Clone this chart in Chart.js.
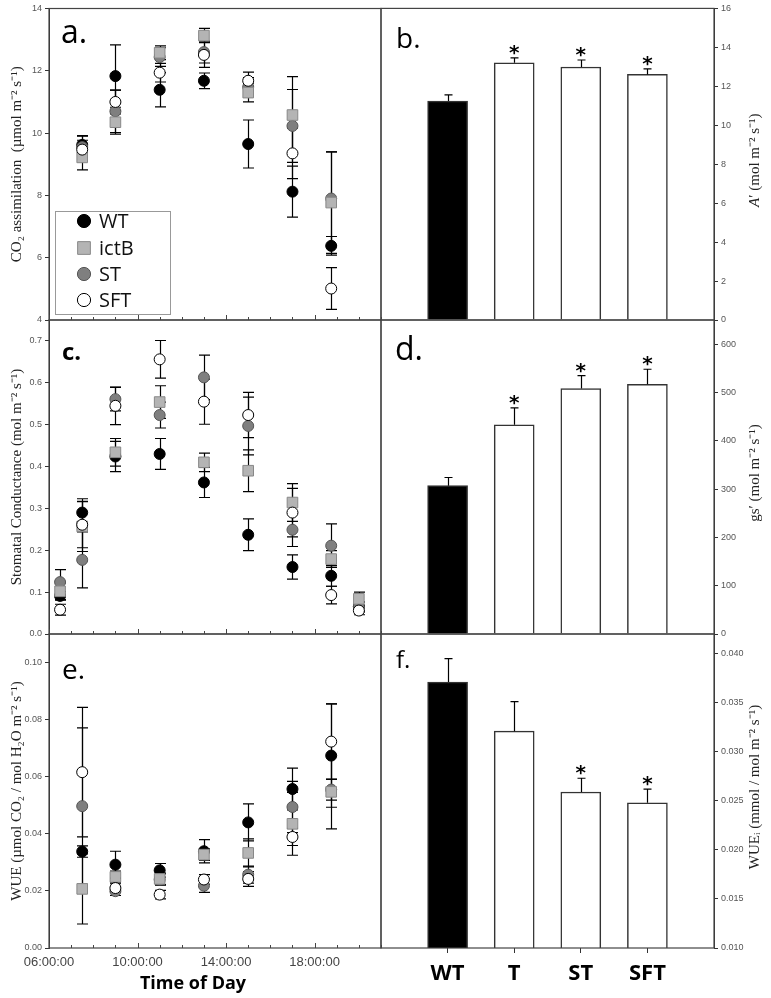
<!DOCTYPE html>
<html>
<head>
<meta charset="utf-8">
<title>Diurnal gas exchange</title>
<script src="https://cdn.jsdelivr.net/npm/chart.js@4.4.1/dist/chart.umd.min.js"></script>
<style>
  html, body { margin: 0; padding: 0; background: #fff; }
  #wrap { position: relative; width: 771px; height: 998px; }
  #wrap canvas { position: absolute; left: 0; top: 0; }
</style>
</head>
<body>
<div id="wrap">
  <canvas id="panelA" width="771" height="998"></canvas>
  <canvas id="panelB" width="771" height="998"></canvas>
  <canvas id="panelC" width="771" height="998"></canvas>
  <canvas id="panelD" width="771" height="998"></canvas>
  <canvas id="panelE" width="771" height="998"></canvas>
  <canvas id="panelF" width="771" height="998"></canvas>
</div>
<script>
// ---- data (hours of day) ----
const lines = ['WT', 'ictB', 'ST', 'SFT'];
const genotypes = ['WT', 'T', 'ST', 'SFT'];

const hoursA = [7.5, 9, 11, 13, 15, 17, 18.75];
const hoursC = [6.5, 7.5, 9, 11, 13, 15, 17, 18.75, 20];
const hoursE = [7.5, 9, 11, 13, 15, 17, 18.75];
const hourTicks = [6, 10, 14, 18];

// a. CO2 assimilation
const assimWT = [9.62, 11.83, 11.39, 11.68, 9.65, 8.12, 6.38];
const assimWTErr = [0.3, 1.0, 0.55, 0.25, 0.77, 0.82, 0.3];
const assimIctB = [9.22, 10.35, 12.58, 13.13, 11.30, 10.58, 7.77];
const assimIctBErr = [0.4, 0.38, 0.22, 0.23, 0.3, 1.23, 1.63];
const assimST = [9.55, 10.7, 12.44, 12.6, 11.48, 10.23, 7.9];
const assimSTErr = [0.35, 0.68, 0.3, 0.35, 0.3, 1.17, 1.5];
const assimSFT = [9.47, 11.0, 11.94, 12.51, 11.68, 9.35, 5.01];
const assimSFTErr = [0.3, 0.38, 0.3, 0.4, 0.28, 0.81, 0.67];

// c. stomatal conductance
const gsWT = [0.091, 0.290, 0.424, 0.430, 0.362, 0.237, 0.160, 0.139, 0.066];
const gsWTErr = [0.01, 0.033, 0.036, 0.037, 0.036, 0.038, 0.029, 0.025, 0.01];
const gsIctB = [0.102, 0.257, 0.434, 0.554, 0.410, 0.390, 0.314, 0.179, 0.084];
const gsIctBErr = [0.02, 0.06, 0.033, 0.039, 0.022, 0.05, 0.045, 0.02, 0.016];
const gsST = [0.124, 0.177, 0.561, 0.523, 0.613, 0.497, 0.249, 0.211, 0.065];
const gsSTErr = [0.03, 0.067, 0.028, 0.031, 0.053, 0.069, 0.04, 0.052, 0.012];
const gsSFT = [0.058, 0.261, 0.545, 0.656, 0.555, 0.523, 0.290, 0.093, 0.056];
const gsSFTErr = [0.013, 0.055, 0.045, 0.045, 0.054, 0.054, 0.058, 0.021, 0.01];

// e. water use efficiency
const wueWT = [0.0338, 0.0292, 0.0272, 0.0339, 0.044, 0.0557, 0.0674];
const wueWTErr = [0.002, 0.0047, 0.0024, 0.0041, 0.0065, 0.0073, 0.0181];
const wueIctB = [0.0207, 0.0249, 0.0242, 0.0327, 0.0333, 0.0435, 0.0547];
const wueIctBErr = [0.0123, 0.002, 0.002, 0.002, 0.0049, 0.011, 0.013];
const wueST = [0.0497, 0.0199, 0.024, 0.0218, 0.0257, 0.0494, 0.0555];
const wueSTErr = [0.0274, 0.0015, 0.002, 0.0023, 0.003, 0.009, 0.0037];
const wueSFT = [0.0616, 0.021, 0.0187, 0.024, 0.0242, 0.0389, 0.0723];
const wueSFTErr = [0.0227, 0.0015, 0.0015, 0.0017, 0.0026, 0.003, 0.0132];

// b, d, f. integrated bars
const aBar = [11.24, 13.21, 12.99, 12.61];
const aBarErr = [0.32, 0.25, 0.36, 0.28];
const aBarStars = [false, true, true, true];
const gsBar = [307, 433, 508, 517];
const gsBarErr = [17, 35, 27, 31];
const gsBarStars = [false, true, true, true];
const wueBar = [0.0371, 0.0321, 0.0259, 0.0248];
const wueBarErr = [0.0024, 0.003, 0.0014, 0.0014];
const wueBarStars = [false, false, true, true];

// tick values
const ticksA = [4, 6, 8, 10, 12, 14];
const ticksB = [0, 2, 4, 6, 8, 10, 12, 14, 16];
const ticksC = [0, 0.1, 0.2, 0.3, 0.4, 0.5, 0.6, 0.7];
const ticksD = [0, 100, 200, 300, 400, 500, 600];
const ticksE = [0, 0.02, 0.04, 0.06, 0.08, 0.10];
const ticksF = [0.010, 0.015, 0.020, 0.025, 0.030, 0.035, 0.040];

// ---- styles ----
const MARKERS = {
  WT:   { pointStyle: 'circle', radius: 5.5, fill: '#000000', border: '#000000' },
  ictB: { pointStyle: 'rect',   radius: 7.5, fill: '#b4b4b4', border: '#888888' },
  ST:   { pointStyle: 'circle', radius: 5.5, fill: '#7f7f7f', border: '#555555' },
  SFT:  { pointStyle: 'circle', radius: 5.5, fill: '#ffffff', border: '#000000' }
};
const DRAW_ORDER = { WT: 3, ST: 2, ictB: 1, SFT: 0 };
const TICK_FONT = { family: 'Liberation Sans', size: 9 };
const TITLE_FONT = { family: 'Liberation Serif', size: 15 };
const FRAME = '#444';

function scatterSet(name, hours, values, errors) {
  const m = MARKERS[name];
  return {
    label: name,
    data: hours.map((h, i) => ({ x: h, y: values[i] })),
    errors: errors,
    pointStyle: m.pointStyle,
    pointRadius: m.radius,
    pointBackgroundColor: m.fill,
    pointBorderColor: m.border,
    pointBorderWidth: 1,
    showLine: false,
    order: DRAW_ORDER[name]
  };
}

function fixedTicks(list) {
  return scale => { scale.ticks = list.map(v => ({ value: v })); };
}

// error bars, stars, frames, panel letters, legend, inward time ticks
const figurePlugin = {
  id: 'figure',
  beforeDatasetsDraw(chart) {
    if (chart.config.type !== 'scatter') return;
    drawErrors(chart, true, 11);
  },
  afterDatasetsDraw(chart, args, opts) {
    if (chart.config.type === 'bar') {
      drawErrors(chart, false, 8);
      drawStars(chart, opts.stars || []);
    }
  },
  afterDraw(chart, args, opts) {
    const ctx = chart.ctx;
    const area = chart.chartArea;
    ctx.save();

    // frame
    ctx.strokeStyle = FRAME;
    ctx.lineWidth = 1.2;
    ctx.strokeRect(area.left, area.top, area.right - area.left, area.bottom - area.top);

    // inward minor / major time ticks
    if (opts.timeTicks) {
      const xs = chart.scales.x;
      ctx.beginPath();
      for (let h = 6; h <= 21; h++) {
        const px = Math.round(xs.getPixelForValue(h)) + 0.5;
        const len = (h - 6) % 4 === 0 ? 5 : 3;
        ctx.moveTo(px, area.bottom);
        ctx.lineTo(px, area.bottom - len);
      }
      ctx.lineWidth = 1;
      ctx.stroke();
    }

    // right-hand axis title, read bottom to top
    if (opts.rightTitle) {
      ctx.save();
      ctx.translate(755, (area.top + area.bottom) / 2 - 4);
      ctx.rotate(-Math.PI / 2);
      ctx.fillStyle = '#222';
      ctx.textBaseline = 'middle';
      ctx.textAlign = 'left';
      let total = 0;
      opts.rightTitle.forEach(p => {
        ctx.font = (p.italic ? 'italic ' : '') + '15px "Liberation Serif"';
        total += ctx.measureText(p.text).width;
      });
      let x = -total / 2;
      opts.rightTitle.forEach(p => {
        ctx.font = (p.italic ? 'italic ' : '') + '15px "Liberation Serif"';
        ctx.fillText(p.text, x, 0);
        x += ctx.measureText(p.text).width;
      });
      ctx.restore();
    }

    // panel letter
    if (opts.letter) {
      ctx.fillStyle = '#000';
      ctx.font = opts.letterFont;
      ctx.textBaseline = 'alphabetic';
      ctx.textAlign = 'left';
      ctx.fillText(opts.letter, opts.letterX, opts.letterY);
    }

    // legend box
    if (opts.legend) {
      const lg = opts.legend;
      ctx.strokeStyle = '#999';
      ctx.lineWidth = 1;
      ctx.strokeRect(lg.x + 0.5, lg.y + 0.5, lg.w, lg.h);
      ctx.font = '20px "Open Sans"';
      ctx.textBaseline = 'middle';
      ctx.textAlign = 'left';
      lines.forEach((name, i) => {
        const m = MARKERS[name];
        const cy = lg.rows[i];
        ctx.fillStyle = m.fill;
        ctx.strokeStyle = m.border;
        ctx.lineWidth = 1;
        Chart.helpers.drawPoint(ctx, {
          pointStyle: m.pointStyle,
          radius: m.radius * 1.2,
          rotation: 0,
          borderWidth: 1
        }, lg.markerX, cy);
        ctx.fillStyle = '#111';
        ctx.fillText(name, lg.textX, cy + 1);
      });
    }

    // bottom axis title
    if (opts.xTitle) {
      ctx.fillStyle = '#000';
      ctx.font = 'bold 18px "Open Sans"';
      ctx.textAlign = 'center';
      ctx.textBaseline = 'alphabetic';
      ctx.fillText(opts.xTitle, opts.xTitleX, opts.xTitleY);
    }
    ctx.restore();
  }
};

function drawErrors(chart, both, cap) {
  const ctx = chart.ctx;
  const ys = chart.scales.y;
  ctx.save();
  ctx.strokeStyle = '#000';
  ctx.lineWidth = 1.2;
  chart.data.datasets.forEach((ds, di) => {
    if (!ds.errors) return;
    const meta = chart.getDatasetMeta(di);
    meta.data.forEach((el, i) => {
      const raw = ds.data[i];
      const v = raw && typeof raw === 'object' ? raw.y : raw;
      const err = ds.errors[i];
      if (v == null || err == null) return;
      const x = Math.round(el.x) + 0.5;
      const yTop = ys.getPixelForValue(v + err);
      const yBot = ys.getPixelForValue(both ? v - err : v);
      ctx.beginPath();
      ctx.moveTo(x, yTop);
      ctx.lineTo(x, yBot);
      ctx.moveTo(x - cap / 2, yTop);
      ctx.lineTo(x + cap / 2, yTop);
      if (both) {
        ctx.moveTo(x - cap / 2, yBot);
        ctx.lineTo(x + cap / 2, yBot);
      }
      ctx.stroke();
    });
  });
  ctx.restore();
}

function drawStars(chart, stars) {
  const ctx = chart.ctx;
  const ys = chart.scales.y;
  const ds = chart.data.datasets[0];
  const meta = chart.getDatasetMeta(0);
  ctx.save();
  ctx.fillStyle = '#000';
  ctx.font = 'bold 20px "DejaVu Sans"';
  ctx.textAlign = 'center';
  ctx.textBaseline = 'alphabetic';
  stars.forEach((s, i) => {
    if (!s) return;
    const idx = i + 1;
    const capY = ys.getPixelForValue(ds.data[idx] + ds.errors[idx]);
    ctx.fillText('*', meta.data[idx].x, capY + 1);
  });
  ctx.restore();
}

function leftAxis(min, max, list, fmt, title) {
  return {
    type: 'linear',
    position: 'left',
    min: min,
    max: max,
    afterBuildTicks: fixedTicks(list),
    afterFit: s => { s.width = 49; },
    ticks: { font: TICK_FONT, color: '#555', padding: 3, callback: fmt },
    grid: { drawOnChartArea: false, tickLength: 4, color: '#333' },
    border: { color: '#333' },
    title: { display: true, text: title, font: TITLE_FONT, color: '#222', padding: { top: 8, bottom: 0 } }
  };
}

function rightAxis(min, max, list, fmt) {
  return {
    type: 'linear',
    position: 'right',
    min: min,
    max: max,
    afterBuildTicks: fixedTicks(list),
    afterFit: s => { s.width = 57; },
    ticks: { font: TICK_FONT, color: '#555', padding: 3, callback: fmt },
    grid: { drawOnChartArea: false, tickLength: 4, color: '#333' },
    border: { color: '#333' }
  };
}

function timeAxis(showLabels) {
  return {
    type: 'linear',
    min: 6,
    max: 21,
    display: showLabels,
    afterBuildTicks: fixedTicks(hourTicks),
    afterFit: s => { s.height = showLabels ? 50 : 0; },
    ticks: {
      font: { family: 'Liberation Sans', size: 13 },
      color: '#444',
      padding: 7,
      maxRotation: 0,
      autoSkip: false,
      callback: v => String(v).padStart(2, '0') + ':00:00'
    },
    grid: { display: false, drawTicks: false },
    border: { display: false }
  };
}

function genotypeAxis(showLabels) {
  return {
    type: 'category',
    offset: false,
    display: showLabels,
    afterFit: s => { s.height = showLabels ? 50 : 0; },
    ticks: { font: { family: 'Open Sans', size: 22, weight: 'bold' }, color: '#000', padding: 8, autoSkip: false, maxRotation: 0 },
    grid: {
      offset: false,
      drawOnChartArea: false,
      tickLength: 5,
      color: c => (c.index === 0 || c.index === 5) ? 'rgba(0,0,0,0)' : '#333'
    },
    border: { display: false }
  };
}

function baseOptions(padding, scales, figure) {
  return {
    responsive: false,
    animation: false,
    layout: { padding: padding },
    scales: scales,
    plugins: {
      legend: { display: false },
      tooltip: { enabled: false },
      figure: figure
    }
  };
}

function scatterPanel(id, sets, padding, yAxis, xLabels, figure) {
  return new Chart(document.getElementById(id), {
    type: 'scatter',
    data: { datasets: sets },
    options: baseOptions(padding, { x: timeAxis(xLabels), y: yAxis }, figure),
    plugins: [figurePlugin]
  });
}

function barPanel(id, values, errors, stars, padding, yAxis, xLabels, figure) {
  figure.stars = stars;
  return new Chart(document.getElementById(id), {
    type: 'bar',
    data: {
      labels: ['', ...genotypes, ''],
      datasets: [{
        data: [null, ...values, null],
        errors: [null, ...errors, null],
        backgroundColor: ['#fff', '#000', '#fff', '#fff', '#fff', '#fff'],
        borderColor: '#333',
        borderWidth: 1.5,
        barThickness: 40
      }]
    },
    options: baseOptions(padding, { x: genotypeAxis(xLabels), y: yAxis }, figure),
    plugins: [figurePlugin]
  });
}

const UNIT = ' (mol m\u207b\u00b2 s\u207b\u00b9)';

// ---- row 1 ----
scatterPanel('panelA', [
  scatterSet('WT', hoursA, assimWT, assimWTErr),
  scatterSet('ictB', hoursA, assimIctB, assimIctBErr),
  scatterSet('ST', hoursA, assimST, assimSTErr),
  scatterSet('SFT', hoursA, assimSFT, assimSFTErr)
], { left: 0, right: 390, top: 6, bottom: 678 },
  leftAxis(4, 14, ticksA, v => String(v), 'CO\u2082 assimilation  (\u00b5mol m\u207b\u00b2 s\u207b\u00b9)'),
  false,
  {
    letter: 'a.', letterFont: '32px "Open Sans"', letterX: 61, letterY: 43, timeTicks: true,
    legend: { x: 55, y: 211, w: 115, h: 103, markerX: 84, textX: 99, rows: [221, 248, 274, 300] }
  });

barPanel('panelB', aBar, aBarErr, aBarStars,
  { left: 381, right: 0, top: 6, bottom: 678 },
  rightAxis(0, 16, ticksB, v => String(v)),
  false,
  {
    letter: 'b.', letterFont: '28px "Open Sans"', letterX: 396, letterY: 48,
    rightTitle: [{ text: 'A', italic: true }, { text: '\u2032' + UNIT }]
  });

// ---- row 2 ----
scatterPanel('panelC', [
  scatterSet('WT', hoursC, gsWT, gsWTErr),
  scatterSet('ictB', hoursC, gsIctB, gsIctBErr),
  scatterSet('ST', hoursC, gsST, gsSTErr),
  scatterSet('SFT', hoursC, gsSFT, gsSFTErr)
], { left: 0, right: 390, top: 320, bottom: 364 },
  leftAxis(0, 0.75, ticksC, v => v.toFixed(1), 'Stomatal Conductance (mol m\u207b\u00b2 s\u207b\u00b9)'),
  false,
  { letter: 'c.', letterFont: 'bold 24px "Open Sans"', letterX: 62, letterY: 360, timeTicks: true });

barPanel('panelD', gsBar, gsBarErr, gsBarStars,
  { left: 381, right: 0, top: 320, bottom: 364 },
  rightAxis(0, 650, ticksD, v => String(v)),
  false,
  {
    letter: 'd.', letterFont: '32px "Open Sans"', letterX: 395, letterY: 360,
    rightTitle: [{ text: 'gs\u2032' + UNIT }]
  });

// ---- row 3 ----
scatterPanel('panelE', [
  scatterSet('WT', hoursE, wueWT, wueWTErr),
  scatterSet('ictB', hoursE, wueIctB, wueIctBErr),
  scatterSet('ST', hoursE, wueST, wueSTErr),
  scatterSet('SFT', hoursE, wueSFT, wueSFTErr)
], { left: 0, right: 390, top: 634, bottom: 0 },
  leftAxis(0, 0.11, ticksE, v => v.toFixed(2), 'WUE (\u00b5mol CO\u2082 / mol H\u2082O m\u207b\u00b2 s\u207b\u00b9)'),
  true,
  {
    letter: 'e.', letterFont: '28px "Open Sans"', letterX: 62, letterY: 679, timeTicks: true,
    xTitle: 'Time of Day', xTitleX: 193, xTitleY: 989
  });

barPanel('panelF', wueBar, wueBarErr, wueBarStars,
  { left: 381, right: 0, top: 634, bottom: 0 },
  rightAxis(0.010, 0.042, ticksF, v => v.toFixed(3)),
  true,
  {
    letter: 'f.', letterFont: '24px "Open Sans"', letterX: 396, letterY: 668,
    rightTitle: [{ text: 'WUE\u1d62 (mmol / mol m\u207b\u00b2 s\u207b\u00b9)' }]
  });
</script>
</body>
</html>
